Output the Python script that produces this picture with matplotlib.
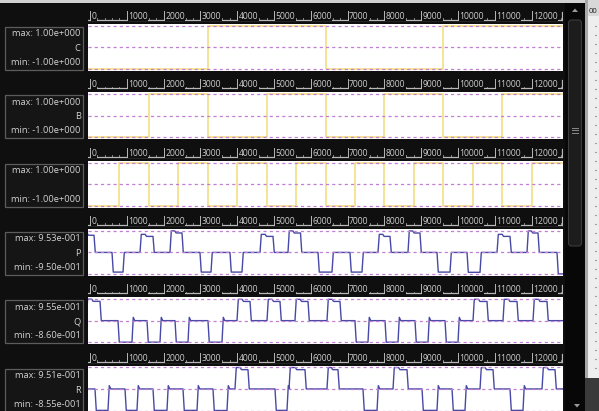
import matplotlib
matplotlib.use("Agg")
import matplotlib.pyplot as plt
from matplotlib.patches import Rectangle, FancyBboxPatch, Polygon

# values
track_names = ["C", "B", "", "P", "Q", "R"]
track_max = [1.00, 1.00, 1.00, 0.953, 0.955, 0.951]
track_min = [-1.00, -1.00, -1.00, -0.950, -0.860, -0.855]
max_text = ["max: 1.00e+000", "max: 1.00e+000", "max: 1.00e+000",
            "max: 9.53e-001", "max: 9.55e-001", "max: 9.51e-001"]
min_text = ["min: -1.00e+000", "min: -1.00e+000", "min: -1.00e+000",
            "min: -9.50e-001", "min: -8.60e-001", "min: -8.55e-001"]

ruler_values = [0, 1000, 2000, 3000, 4000, 5000, 6000, 7000, 8000, 9000, 10000, 11000, 12000]

# counter bits, one level per 800-sample slot
slot_starts = [0, 800, 1600, 2400, 3200, 4000, 4800, 5600,
               6400, 7200, 8000, 8800, 9600, 10400, 11200, 12000]
c_levels = [-1, -1, -1, -1, 1, 1, 1, 1, -1, -1, -1, -1, 1, 1, 1, 1]
b_levels = [-1, -1, 1, 1, -1, -1, 1, 1, -1, -1, 1, 1, -1, -1, 1, 1]
a_levels = [-1, 1, -1, 1, -1, 1, -1, 1, -1, 1, -1, 1, -1, 1, -1, 1]

# three-level outputs: pulse start, pulse end, pulse level, resting level
p_start = [-200, 598, 1359, 2174, 2989, 3804, 4620, 5380, 6196, 7065, 7826, 8641, 9429, 10245, 11060, 11875, 12690]
p_end = [109, 897, 1712, 2500, 3288, 4130, 4973, 5720, 6576, 7391, 8152, 8967, 9783, 10598, 11413, 12174, 13000]
p_level = [0.85, -0.87, 0.80, 0.953, -0.87, -0.87, 0.80, 0.95, -0.87, -0.87, 0.80, 0.95, -0.87, -0.88, 0.80, 0.95, -0.95]
p_rest = 0.0

q_start = [-100, 761, 1549, 2310, 3206, 3995, 4810, 5570, 6440, 7200, 8016, 8831, 9647, 10408, 11223, 12038]
q_end = [272, 1141, 1902, 2663, 3587, 4348, 5163, 5924, 6793, 7554, 8370, 9185, 10000, 10788, 11603, 12418]
q_level = [0.955, -0.86, -0.86, -0.86, -0.86, 0.95, 0.95, 0.95, 0.95, -0.86, -0.86, -0.86, -0.86, 0.95, 0.95, 0.95]
q_rest = 0.05

r_start = [136, 951, 1712, 2527, 3342, 3940, 5027, 5408, 6440, 7418, 8234, 9022, 9837, 10598, 11413, 12283]
r_end = [489, 1277, 2092, 2908, 3723, 4293, 5353, 5842, 6739, 7800, 8614, 9429, 10190, 10951, 11766, 12636]
r_level = [-0.85, -0.85, -0.85, -0.85, -0.855, 0.951, -0.85, 0.95, 0.95, -0.85, 0.95, -0.85, -0.85, 0.95, -0.85, 0.95]
r_rest = 0.05

W, H = 599, 411
X_LO, X_HI = -54, 12853
BG = "#0f0f0f"
TXT = "#d2d2d2"
YELLOW = "#f0dc78"
BLUE = "#4848a6"
DASH = "#c07fd2"
FONT = ["Open Sans", "DejaVu Sans"]


def px_rect(x0, y0, w, h):
    # pixel box measured from the top-left corner -> figure fraction
    return [x0 / W, 1 - (y0 + h) / H, w / W, h / H]


def pulse_path(starts, ends, levels, rest, spike):
    ramp = 35
    xs, ys = [X_LO - 200], [rest]
    for s, e, lv in zip(starts, ends, levels):
        xs += [s, s + ramp]
        ys += [rest, lv]
        if lv > rest:
            k = s + (e - s) * 0.4
            xs += [k, k + ramp, e, e + ramp]
            ys += [lv, lv - 0.09, lv - 0.09, rest]
        else:
            xs += [e, e + ramp]
            ys += [lv, rest + spike]
            if spike:
                xs += [e + ramp + 40]
                ys += [rest]
    xs.append(X_HI + 200)
    ys.append(rest)
    return xs, ys


fig = plt.figure(figsize=(W / 100, H / 100), dpi=100)
fig.patch.set_facecolor(BG)

bg = fig.add_axes([0, 0, 1, 1])
bg.set_xlim(0, W)
bg.set_ylim(H, 0)
bg.axis("off")
bg.set_facecolor(BG)

# light strip at the top
bg.add_patch(Rectangle((0, 0), 585, 3.5, color="#d2d2d2", lw=0))

# scrollbar + neighbouring panel on the right
bg.add_patch(Rectangle((565, 3.5), 20, H, color="#070707", lw=0))
bg.add_patch(FancyBboxPatch((568.5, 20), 13, 226, boxstyle="round,pad=0,rounding_size=3",
                            fc="#1c1c1c", ec="#3c3c3c", lw=0.8))
bg.add_patch(Polygon([[572, 12], [578, 12], [575, 8.5]], closed=True, color="#9a9a9a", lw=0))
bg.add_patch(Polygon([[574, 404], [580, 404], [577, 407.5]], closed=True, color="#9a9a9a", lw=0))
for gy in [128, 130.5, 133]:
    bg.plot([572, 578], [gy, gy], color="#8a8a8a", lw=0.7)
bg.add_patch(Rectangle((585, 0), 14, H, color="#eeeeee", lw=0))
bg.add_patch(Rectangle((585, 0), 3, H, color="#a8a8a8", lw=0))
bg.add_patch(Rectangle((585, 378), 14, 40, color="#3a3a3a", lw=0))
bg.add_patch(Rectangle((588, 0), 11, 16, color="#d8d8d8", lw=0))
bg.text(589, 13, "00", fontsize=5.5, color="#202020", family=FONT)
for dy in range(26, 375, 9):
    bg.plot([594.5, 595.5], [dy, dy], color="#a0a0a0", lw=0.8)

tracks = [
    ("step", c_levels, YELLOW),
    ("step", b_levels, YELLOW),
    ("step", a_levels, YELLOW),
    ("pulse", (p_start, p_end, p_level, p_rest, 0.0), BLUE),
    ("pulse", (q_start, q_end, q_level, q_rest, 0.14), BLUE),
    ("pulse", (r_start, r_end, r_level, r_rest, 0.14), BLUE),
]

for i, (kind, data, color) in enumerate(tracks):
    top = 24 + 68.3 * i
    ph = 47

    # ruler strip above each track
    ru = fig.add_axes(px_rect(88, top - 17, 475, 15))
    ru.set_xlim(X_LO, X_HI)
    ru.set_ylim(0, 15)
    ru.axis("off")
    ru.plot([X_LO, 12830], [1.8, 1.8], color="#b8b8b8", lw=0.9)
    ru.plot([12830, 12830], [1.8, 10], color="#b8b8b8", lw=0.9)
    for m in range(0, 12801, 200):
        ru.plot([m, m], [1.8, 3.6], color="#9c9c9c", lw=0.6, zorder=1)
    for v in ruler_values:
        ru.plot([v, v], [1.8, 11], color="#b8b8b8", lw=0.7, zorder=3)
        ru.text(v + 40, 3.0, str(v), fontsize=6.2, color="#cccccc", family=FONT,
                ha="left", va="baseline", zorder=2,
                bbox=dict(boxstyle="square,pad=0.05", fc=BG, ec="none"))

    # name box on the left
    bg.add_patch(Rectangle((5, top + 3), 78, 43, fc="#151515", ec="#5c5c5c", lw=0.9))
    bg.text(80.5, top + 10, max_text[i], fontsize=6.7, color=TXT, family=FONT,
            ha="right", va="center")
    bg.text(80.5, top + 24.5, track_names[i], fontsize=6.7, color=TXT, family=FONT,
            ha="right", va="center")
    bg.text(80.5, top + 38.5, min_text[i], fontsize=6.7, color=TXT, family=FONT,
            ha="right", va="center")

    # waveform area
    ax = fig.add_axes(px_rect(88, top, 475, ph))
    ax.set_facecolor("white")
    for s in ax.spines.values():
        s.set_visible(False)
    ax.set_xticks([])
    ax.set_yticks([])
    hi, lo = track_max[i], track_min[i]
    pad = (hi - lo) * 2.0 / (ph - 4)
    ax.set_xlim(X_LO, X_HI)
    ax.set_ylim(lo - pad, hi + pad)

    if kind == "step":
        xs = [X_LO] + slot_starts[1:] + [X_HI]
        ys = data + [data[-1]]
        ax.step(xs, ys, where="post", color=color, lw=1.1, zorder=2)
    else:
        xs, ys = pulse_path(*data)
        ax.plot(xs, ys, color=color, lw=1.0, zorder=2)

    for yv in [hi, (hi + lo) / 2, lo]:
        ax.plot([X_LO, X_HI], [yv, yv], color=DASH, lw=0.9,
                dashes=(2.5, 2.5), zorder=3)

fig.savefig("out.png", dpi=100, facecolor=BG)
